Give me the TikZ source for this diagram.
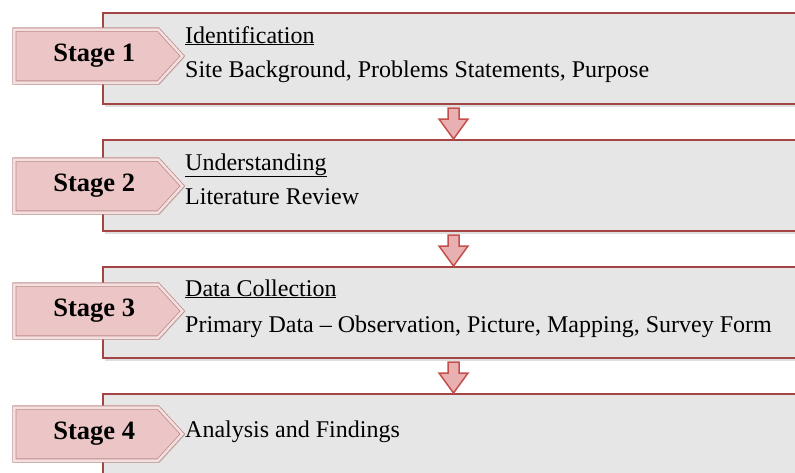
\documentclass[tikz,border=0pt]{standalone}
\usepackage{fontspec}
\setmainfont{Liberation Serif}
\usetikzlibrary{shapes}
\usetikzlibrary{shapes.symbols}
\usetikzlibrary{shadows}
\usetikzlibrary{positioning}
\definecolor{boxred}{RGB}{165,68,68}
\definecolor{boxgray}{RGB}{230,230,230}
\definecolor{tagpink}{RGB}{236,198,198}
\definecolor{tagedge}{RGB}{190,140,140}
\definecolor{arrowpink}{RGB}{232,176,176}
\definecolor{arrowred}{RGB}{196,80,77}
\tikzstyle{stagebox}=[rectangle,draw=boxred,fill=boxgray,line width=2.2pt,minimum width=708pt,minimum height=91pt,inner sep=0pt,anchor=north west,drop shadow={opacity=0.25,shadow xshift=2pt,shadow yshift=-3pt}]
\tikzstyle{stagetag}=[signal,signal to=east,signal pointer angle=95,fill=tagpink,draw=tagedge,line width=0.8pt,double=tagpink!55!white,double distance=2.5pt,minimum width=168pt,minimum height=53pt,inner sep=0pt,anchor=west,font=\fontsize{26.5}{31}\selectfont\bfseries,drop shadow={opacity=0.2,shadow xshift=2pt,shadow yshift=-2pt}]
\tikzstyle{blockarrow}=[draw=arrowred,fill=arrowpink,line width=1.5pt,line join=miter]
\tikzstyle{heading}=[anchor=base west,inner sep=0pt,font=\fontsize{24}{29}\selectfont]

\begin{document}
\begin{tikzpicture}[x=1pt,y=-1pt]
    \clip (0,0) rectangle (795,472);
    \useasboundingbox (0,0) rectangle (795,472);
    \coordinate (col) at (453.5,0);
    \node[stagebox] at (102,12) (box1) {};
    \node[stagebox] at (102,139) (box2) {};
    \node[stagebox] at (102,266) (box3) {};
    \node[stagebox] at (102,393) (box4) {};
    \node[stagetag] at (14,56) (tag1) {\hspace{16pt}Stage 1};
    \node[stagetag] at (14,186) (tag2) {\hspace{16pt}Stage 2};
    \node[stagetag] at (14,311) (tag3) {\hspace{16pt}Stage 3};
    \node[stagetag] at (14,434) (tag4) {\hspace{16pt}Stage 4};
    \node[heading] at (185,43) (head1) {\underline{Identification}};
    \node[heading] at (185,77) (info1) {Site Background, Problems Statements, Purpose};
    \node[heading] at (185,170) (head2) {\underline{Understanding}};
    \node[heading] at (185,204) (info2) {Literature Review};
    \node[heading] at (185,296) (head3) {\underline{Data Collection}};
    \node[heading] at (185,332) (info3) {Primary Data -- Observation, Picture, Mapping, Survey Form};
    \node[heading] at (185,437) (info4) {Analysis and Findings};
    \draw[blockarrow] (col |- box2.north) -- ++(-14.5,-20) -- ++(9,0) -- ++(0,-11) -- ++(11,0) -- ++(0,11) -- ++(9,0) -- cycle;
    \draw[blockarrow] (col |- box3.north) -- ++(-14.5,-20) -- ++(9,0) -- ++(0,-11) -- ++(11,0) -- ++(0,11) -- ++(9,0) -- cycle;
    \draw[blockarrow] (col |- box4.north) -- ++(-14.5,-20) -- ++(9,0) -- ++(0,-11) -- ++(11,0) -- ++(0,11) -- ++(9,0) -- cycle;
  \end{tikzpicture}
\end{document}
